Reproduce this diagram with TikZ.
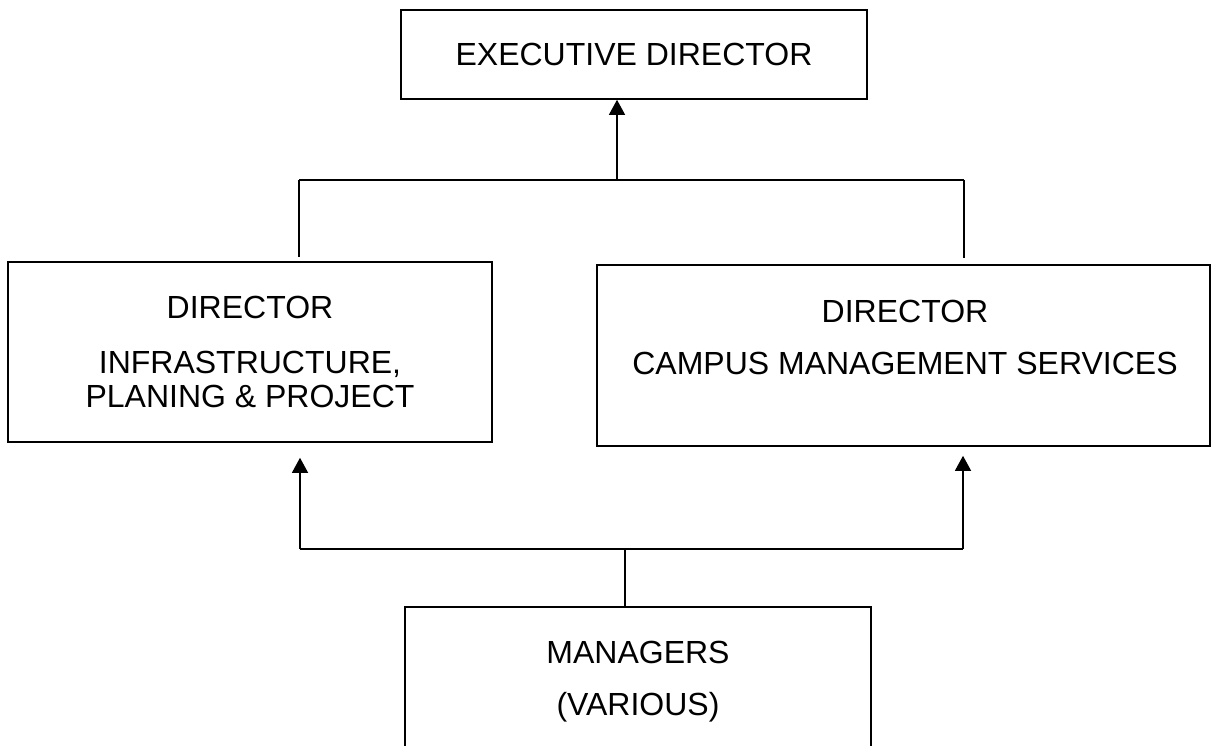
\documentclass[tikz,border=0pt]{standalone}
\usepackage{fontspec}
\setmainfont{Liberation Sans}
\usetikzlibrary{arrows.meta}
\begin{document}
\begin{tikzpicture}[x=1pt,y=-1pt,
  box/.style={draw, line width=1.6pt, rectangle, inner sep=0pt},
  lbl/.style={anchor=base, inner sep=0pt, font=\fontsize{32}{38}\selectfont},
  link/.style={line width=1.3pt},
  up/.style={link, -{Triangle[width=16pt,length=15pt]}}]
\useasboundingbox (0,0) rectangle (1213,746);
\fill[white] (0,0) rectangle (1213,746);

% top level
\node[box, minimum width=466pt, minimum height=89pt] (ed) at (634,54.5) {};
\node[lbl] (ed-t) at (634,66) {EXECUTIVE DIRECTOR};

% directors
\node[box, minimum width=484pt, minimum height=180pt] (ipp) at (250,352) {};
\node[lbl] (ipp-a) at (250,318) {DIRECTOR};
\node[lbl] (ipp-b) at (250,373) {INFRASTRUCTURE,};
\node[lbl] (ipp-c) at (250,407) {PLANING \& PROJECT};

\node[box, minimum width=613pt, minimum height=181pt] (cms) at (903.5,355.5) {};
\node[lbl] (cms-a) at (905,322) {DIRECTOR};
\node[lbl] (cms-b) at (905,374) {CAMPUS MANAGEMENT SERVICES};

% managers (box runs past the lower edge)
\node[box, minimum width=466pt, minimum height=200pt] (mgr) at (638,707) {};
\node[lbl] (mgr-a) at (638,663) {MANAGERS};
\node[lbl] (mgr-b) at (638,715) {(VARIOUS)};

% upper bus
\coordinate (t-l) at (299,180);
\coordinate (t-r) at (964,180);
\coordinate (t-m) at (617,180);
\draw[link] (t-l) -- (t-r);
\draw[link, shorten >=4pt] (t-l) -- (t-l |- ipp.north);
\draw[link, shorten >=6pt] (t-r) -- (t-r |- cms.north);
\draw[up] (t-m) -- (t-m |- ed.south);

% lower bus
\coordinate (b-l) at (300,549);
\coordinate (b-r) at (963,549);
\coordinate (b-m) at (625,549);
\draw[link] (b-l) -- (b-r);
\draw[link] (b-m) -- (b-m |- mgr.north);
\draw[up, shorten >=15pt] (b-l) -- (b-l |- ipp.south);
\draw[up, shorten >=9pt] (b-r) -- (b-r |- cms.south);
\end{tikzpicture}
\end{document}
